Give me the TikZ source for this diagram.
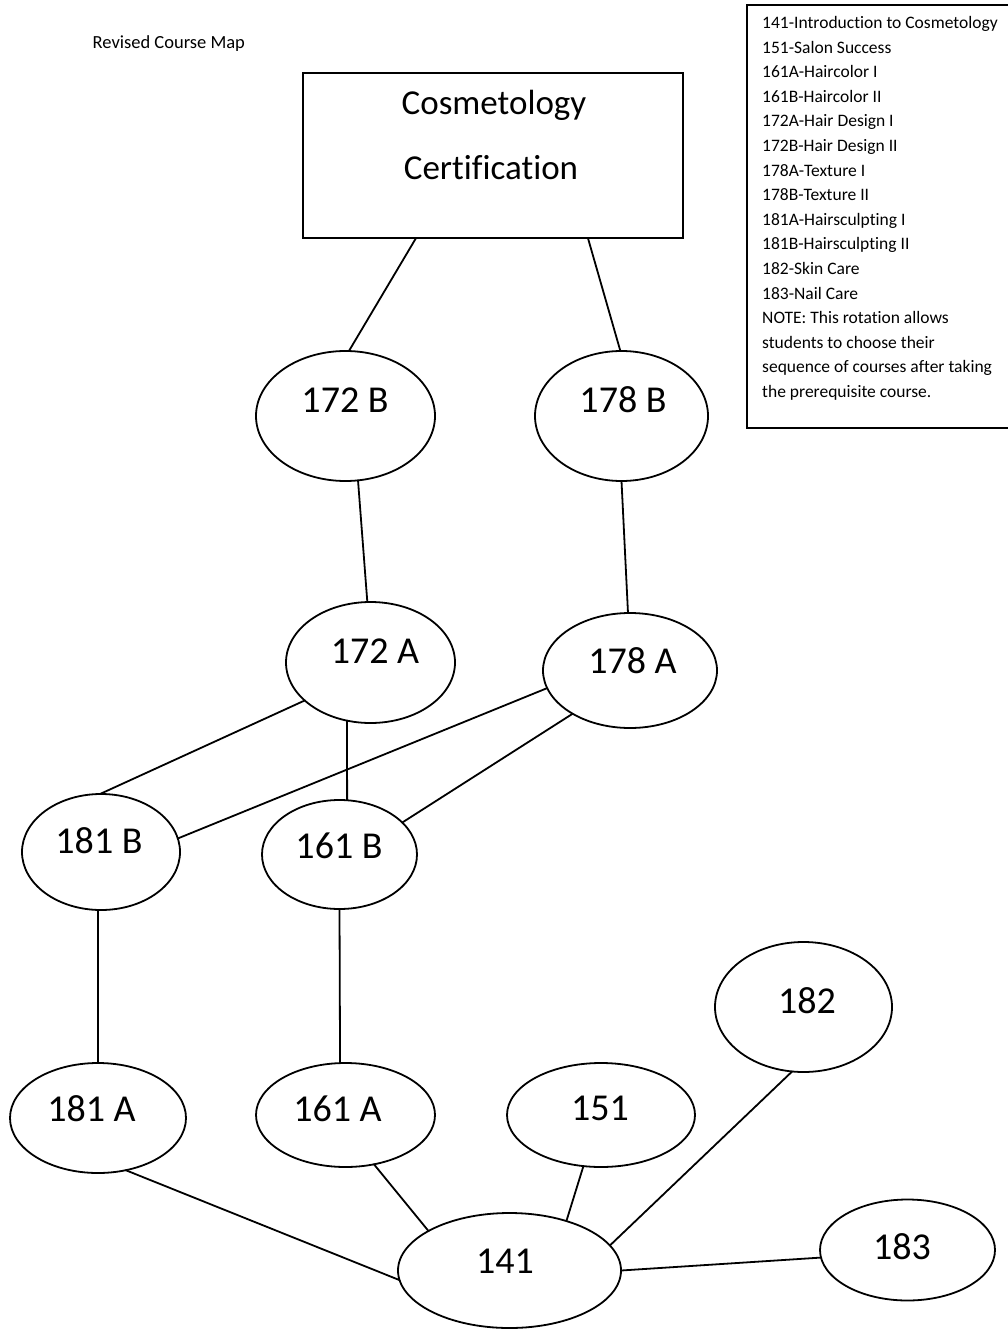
\documentclass[tikz,border=0pt]{standalone}
\usepackage{fontspec}
\setmainfont[Ligatures=NoCommon]{Carlito}
\usetikzlibrary{shapes.geometric}
\tikzset{
  course/.style 2 args={draw, ellipse, line width=1.8pt, inner sep=0pt, outer sep=0pt,
    minimum width=#1, minimum height=#2},
  certbox/.style={draw, rectangle, line width=1.8pt, inner sep=0pt, outer sep=0pt,
    minimum width=380pt, minimum height=165pt},
  legendbox/.style={rectangle, inner sep=0pt, outer sep=0pt,
    minimum width=261pt, minimum height=423pt, anchor=north west},
  boxline/.style={line width=1.8pt, line cap=butt},
  lbl/.style={inner sep=0pt, anchor=base, font=\fontsize{38}{40}\selectfont},
  certlbl/.style={inner sep=0pt, anchor=base, font=\fontsize{35}{38}\selectfont},
  legline/.style={inner sep=0pt, anchor=base west, font=\fontsize{17.5}{21}\selectfont},
  titlelbl/.style={inner sep=0pt, anchor=base west, font=\fontsize{18.5}{22}\selectfont},
  conn/.style={line width=1.8pt, line cap=round}
}
\begin{document}
\begin{tikzpicture}[x=1pt,y=-1pt]
\path[use as bounding box, fill=white] (0,0) rectangle (1008,1329);

% title
\node[titlelbl] (title) at (92.5,49) {Revised Course Map};

% legend (its right side is cut off by the page edge)
\node[legendbox] (legend) at (747,5) {};
\draw[boxline] (legend.north east) -- (legend.north west) -- (legend.south west) -- (legend.south east);
\foreach \t [count=\i] in {141-Introduction to Cosmetology,151-Salon Success,161A-Haircolor I,161B-Haircolor II,172A-Hair Design I,172B-Hair Design II,178A-Texture I,178B-Texture II,181A-Hairsculpting I,181B-Hairsculpting II,182-Skin Care,183-Nail Care,NOTE: This rotation allows,students to choose their,sequence of courses after taking,the prerequisite course.}
  \node[legline] (leg\i) at (762,{28.5+24.6*(\i-1)}) {\t};

% certification box
\node[certbox] (cert) at (493,155.5) {};
\node[certlbl] (certa) at (494,115) {Cosmetology};
\node[certlbl] (certb) at (491,180) {Certification};

% course ellipses
\node[course={179pt}{130pt}] (n172b) at (345.5,416) {};
\node[course={173pt}{130pt}] (n178b) at (621.5,416) {};
\node[course={169pt}{121pt}] (n172a) at (370.5,662.5) {};
\node[course={174pt}{115pt}] (n178a) at (630,670.5) {};
\node[course={158pt}{116pt}] (n181b) at (101,852) {};
\node[course={155pt}{109pt}] (n161b) at (339.5,854.5) {};
\node[course={176pt}{110pt}] (n181a) at (98,1118) {};
\node[course={179pt}{104pt}] (n161a) at (345.5,1115) {};
\node[course={188pt}{104pt}] (n151) at (601,1115) {};
\node[course={177pt}{130pt}] (n182) at (803.5,1007) {};
\node[course={175pt}{101pt}] (n183) at (907.5,1250) {};
\node[course={223pt}{115pt}] (n141) at (509.5,1270.5) {};

% labels
\node[lbl] (t172b) at (345,412) {172 B};
\node[lbl] (t178b) at (623,412) {178 B};
\node[lbl] (t172a) at (375,663) {172 A};
\node[lbl] (t178a) at (632.5,673) {178 A};
\node[lbl] (t181b) at (99,853) {181 B};
\node[lbl] (t161b) at (339,858) {161 B};
\node[lbl] (t181a) at (91.5,1121) {181 A};
\node[lbl] (t161a) at (337.5,1121) {161 A};
\node[lbl] (t151) at (600,1120) {151};
\node[lbl] (t182) at (807,1013) {182};
\node[lbl] (t183) at (902,1259) {183};
\node[lbl] (t141) at (505,1273) {141};

% connectors
\draw[conn] (cert.-133.4) -- (n172b.87.8);
\draw[conn] (cert.-41.9) -- (n178b.91.3);
\draw[conn] (n172b.-79.1) -- (n172a.93.3);
\draw[conn] (n178b.-90.4) -- (n178a.92);
\draw[conn] (n172a.-150.9) -- (n181b.91);
\draw[conn] (n172a.-112) -- (n161b.82.1);
\draw[conn] (n178a.-168.6) -- (n181b.10);
\draw[conn] (n178a.-143.4) -- (n161b.27.5);
\draw[conn] (n181b.-93) -- (n181a.90);
\draw[conn] (n161b.-90.5) -- (n161a.96.6);
\draw[conn] (n181a.-62.7) -- (n141.-175.6);
\draw[conn] (n161a.-60.4) -- (n141.154.7);
\draw[conn] (n151.-109.1) -- (n141.41.2);
\draw[conn] (n182.-100.7) -- (n141.14.2);
\draw[conn] (n141.0.3) -- (n183.-175.4);
\end{tikzpicture}
\end{document}
